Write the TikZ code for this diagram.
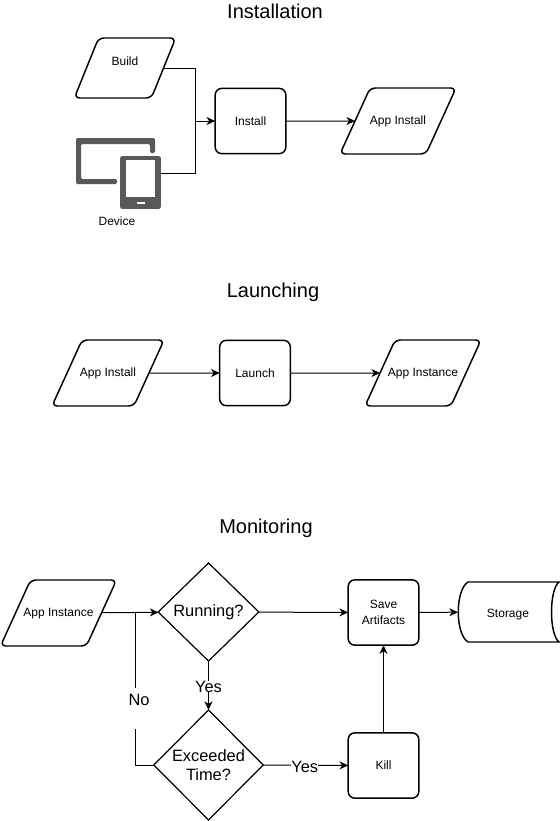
\documentclass[tikz,border=0pt]{standalone}
\usepackage{fontspec}
\setmainfont{Liberation Sans}
\usetikzlibrary{arrows.meta,shapes.geometric}

\newcommand{\datatext}[1]{\makebox[30pt]{#1}}
\tikzset{
  flowline/.style={draw=black,line width=0.75pt},
  flowarrow/.style={flowline,-{Stealth[length=6.5pt,width=6pt,inset=2pt]}},
  titletext/.style={inner sep=0pt,font=\fontsize{15}{18}\selectfont},
  smalltext/.style={inner sep=0pt,align=center,font=\fontsize{9}{12}\selectfont},
  bigtext/.style={inner sep=0pt,align=center,fill=white,font=\fontsize{12.3}{14.5}\selectfont},
  stepbox/.style={draw,line width=1.1pt,rounded corners=5pt,minimum width=53pt,minimum height=49pt,inner sep=0pt,outer sep=0pt,align=center,font=\fontsize{9}{12}\selectfont},
  databox/.style={draw,line width=1.1pt,shape=trapezium,trapezium left angle=65.5,trapezium right angle=114.5,trapezium stretches body=true,rounded corners=4pt,inner sep=0pt,outer sep=0pt,text height=27.2pt,text depth=22.3pt,font=\fontsize{9}{12}\selectfont},
  choicebox/.style={draw,line width=0.9pt,shape=diamond,aspect=1,inner sep=0pt,outer sep=0pt,align=center,font=\fontsize{12.3}{14.5}\selectfont},
}
\definecolor{icongrey}{HTML}{595959}

\begin{document}
\begin{tikzpicture}[x=0.75pt,y=0.75pt,yscale=-1,xscale=1]
\useasboundingbox (0,0) rectangle (560,821);

% Titles
\node (titleinstall) [titletext] at (275,11) {Installation};
\node (titlelaunch) [titletext] at (273,292) {Launching};
\node (titlemonitor) [titletext] at (266,528) {Monitoring};

% Installation
\node (build) [databox,minimum width=76pt,text height=20.5pt,text depth=24.5pt,trapezium left angle=68,trapezium right angle=112] at (125,68) {\datatext{Build}};
\node (install) [stepbox] at (250.5,121) {Install};
\node (appinstallA) [databox,minimum width=87pt] at (398,121) {\datatext{App Install}};

% Device icon
\fill[icongrey,rounded corners=1pt] (76,138) -- (155,138) -- (155,153) -- (150,153) -- (150,144) -- (81,144) -- (81,179) -- (117,179) -- (117,184) -- (76,184) -- cycle;
\node (tablet) [fill=icongrey,rounded corners=1.5pt,minimum width=30.5pt,minimum height=39.5pt,inner sep=0pt,outer sep=0pt] at (140.5,182.5) {};
\fill[white] (126,160) rectangle (155,197);
\fill[white] (137,202) rectangle (145,204);
\node (device) [smalltext] at (117,221) {Device};
\coordinate (tabletpin) at (161,173);
\coordinate (installjoin) at (195,121);

\draw[flowline] (build.east) -| (installjoin);
\draw[flowline] (tabletpin) -| (installjoin);
\draw[flowarrow] (installjoin) -- (install);
\draw[flowarrow] (install) -- (appinstallA);

% Launching
\node (appinstallB) [databox,minimum width=84pt] at (108,373) {\datatext{App Install}};
\node (launch) [stepbox] at (255,373) {Launch};
\node (appinstanceA) [databox,minimum width=87pt] at (423,373) {\datatext{App Instance}};

\draw[flowarrow] (appinstallB) -- (launch);
\draw[flowarrow] (launch) -- (appinstanceA);

% Monitoring
\node (appinstanceB) [databox,minimum width=87pt] at (58.5,613) {\datatext{App Instance}};
\node (running) [choicebox,minimum width=75.5pt,minimum height=73.5pt] at (208.5,612) {Running?};
\node (exceeded) [choicebox,minimum width=82pt,minimum height=82.5pt] at (208.5,765) {Exceeded\\Time?};
\node (artifacts) [stepbox] at (383.5,612.5) {Save\\Artifacts};
\node (kill) [stepbox] at (383.5,765.5) {Kill};
\node (storage) [minimum width=75.75pt,minimum height=45pt,inner sep=0pt,outer sep=0pt] at (508.5,612) {};
\node (storagetext) [smalltext] at (508,615) {Storage};
\draw[line width=1.1pt] (468,582) -- (559,582) .. controls (549,590) and (549,634) .. (559,642) -- (468,642) .. controls (455,634) and (455,590) .. (468,582) -- cycle;

\coordinate (nocorner) at (135,765);
\coordinate (nomerge) at (135,612);

\draw[flowarrow] (appinstanceB) -- (running);
\draw[flowline] (exceeded.west) -- (nocorner) -- (nomerge);
\node (nolabel) [bigtext,anchor=base,text height=12.75pt,text depth=18pt,text width=22pt] at (139,705) {No};
\draw[flowarrow] (running) -- node[bigtext,pos=0.52] (yesdown) {Yes} (exceeded);
\draw[flowarrow] (running) -- (artifacts);
\draw[flowarrow] (exceeded) -- node[bigtext,pos=0.49,yshift=-1pt] (yesright) {Yes} (kill);
\draw[flowarrow] (kill) -- (artifacts);
\draw[flowarrow] (artifacts) -- (storage);

\end{tikzpicture}
\end{document}
